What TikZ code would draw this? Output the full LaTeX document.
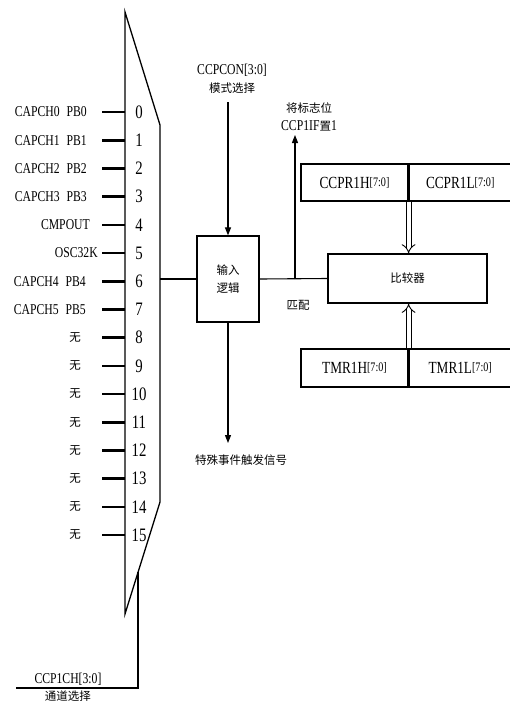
\documentclass[tikz,border=0pt]{standalone}
\usepackage{fontspec}
\setmainfont{Liberation Serif}[FakeStretch=0.78]
\newfontfamily\cjk{Noto Sans CJK SC}
\usetikzlibrary{arrows.meta,calc,positioning}
\newcommand{\cntext}[1]{{\cjk\fontsize{11.5}{18}\selectfont #1}}
\newcommand{\bits}[1]{\raisebox{2pt}{\fontsize{13}{13}\selectfont #1}}

\begin{document}
\begin{tikzpicture}[x=1pt,y=-1pt,
  muxline/.style={line width=1.3pt},
  pinline/.style={line width=2.6pt},
  wire/.style={line width=1.1pt},
  arr/.style={wire,-{Triangle[length=8pt,width=6pt]}},
  bus/.style={double,double distance=4pt,line width=0.9pt,-{Implies}},
  blk/.style={draw,line width=1.2pt,inner sep=0pt,align=center},
  cn/.style={font=\cjk\fontsize{11.5}{18}\selectfont},
  lab/.style={font=\fontsize{15}{17}\selectfont,inner sep=0pt},
  chnum/.style={font=\fontsize{19}{20}\selectfont,inner sep=0pt},
  txt/.style={font=\fontsize{15}{18}\selectfont,align=center,inner sep=0pt}]
  \path[use as bounding box] (0,0) rectangle (510,702);
  \clip (0,0) rectangle (510,702);
  % multiplexer
  \coordinate (mtl) at (125,12);
  \coordinate (mtr) at (160,125);
  \coordinate (mbr) at (160,502);
  \coordinate (mbl) at (125,614);
  \draw[muxline] (mtl) -- (mtr) -- (mbr) -- (mbl) -- cycle;
  \foreach \i/\lbl/\xr in {0/{CAPCH0\hspace{7pt}PB0}/87,1/{CAPCH1\hspace{7pt}PB1}/87,
      2/{CAPCH2\hspace{7pt}PB2}/87,3/{CAPCH3\hspace{7pt}PB3}/87,4/CMPOUT/90,5/OSC32K/98,
      6/{CAPCH4\hspace{7pt}PB4}/86,7/{CAPCH5\hspace{7pt}PB5}/86,8/\cntext{无}/81,
      9/\cntext{无}/81,10/\cntext{无}/81,11/\cntext{无}/81,12/\cntext{无}/81,
      13/\cntext{无}/81,14/\cntext{无}/81,15/\cntext{无}/81}{
    \pgfmathsetmacro\yy{112+28.2*\i}
    \coordinate (p\i) at (102,\yy);
    \coordinate (in\i) at (125,\yy);
    \draw[pinline] (p\i) -- (in\i);
    \node[chnum] (num\i) at (139,\yy) {\i};
    \node[lab,anchor=east] (lab\i) at (\xr,\yy) {\lbl};
  }
  % channel select
  \coordinate (sel) at ($(mbr)!0.629!(mbl)$);
  \coordinate (selend) at (16,688);
  \draw[wire,line width=1.4pt] (sel) |- (selend);
  \node[txt,anchor=south] (selreg) at (68,686) {CCP1CH[3:0]};
  \node[cn,anchor=north,inner sep=0pt] (seltxt) at (68,691) {通道选择};
  % input logic
  \node[blk,cn,minimum width=62pt,minimum height=86pt] (logic) at (228,279) {输入\\逻辑};
  \coordinate (muxout) at (160,279);
  \draw[line width=2pt] (muxout) -- (logic.west);
  \node[txt,anchor=south] (mode) at (232,94) {CCPCON[3:0]\\\cntext{模式选择}};
  \draw[arr] (logic.north |- 0,102) -- (logic.north);
  \node[cn,anchor=north,inner sep=0pt] (event) at (241,455) {特殊事件触发信号};
  \draw[arr,shorten >=12pt] (logic.south) -- (logic.south |- event.north);
  % comparator and registers
  \node[blk,cn,minimum width=159pt,minimum height=49pt] (cmp) at (407.5,278.5) {比较器};
  \draw[wire] (logic.east) -- (cmp.west);
  \coordinate (br) at (295,279);
  \node[txt,anchor=south] (flag) at (309,131) {\cntext{将标志位}\\CCP1IF\cntext{置}1};
  \draw[arr] (br) -- (br |- 0,135);
  \node[cn,anchor=north,inner sep=0pt] (match) at (298,300) {匹配};
  \node[blk,minimum width=107pt,minimum height=37pt,font=\fontsize{17}{17}\selectfont] (ccprh) at (354.5,182.5) {CCPR1H\bits{[7:0]}};
  \node[blk,minimum width=102pt,minimum height=37pt,right=0pt of ccprh,font=\fontsize{17}{17}\selectfont] (ccprl) {CCPR1L\bits{[7:0]}};
  \node[blk,minimum width=107pt,minimum height=38pt,font=\fontsize{17}{17}\selectfont] (tmrh) at (354.5,368) {TMR1H\bits{[7:0]}};
  \node[blk,minimum width=102pt,minimum height=38pt,right=0pt of tmrh,font=\fontsize{17}{17}\selectfont] (tmrl) {TMR1L\bits{[7:0]}};
  \draw[bus] (ccprh.south east) -- (ccprh.south east |- cmp.north);
  \draw[bus] (tmrh.north east) -- (tmrh.north east |- cmp.south);
\end{tikzpicture}
\end{document}
